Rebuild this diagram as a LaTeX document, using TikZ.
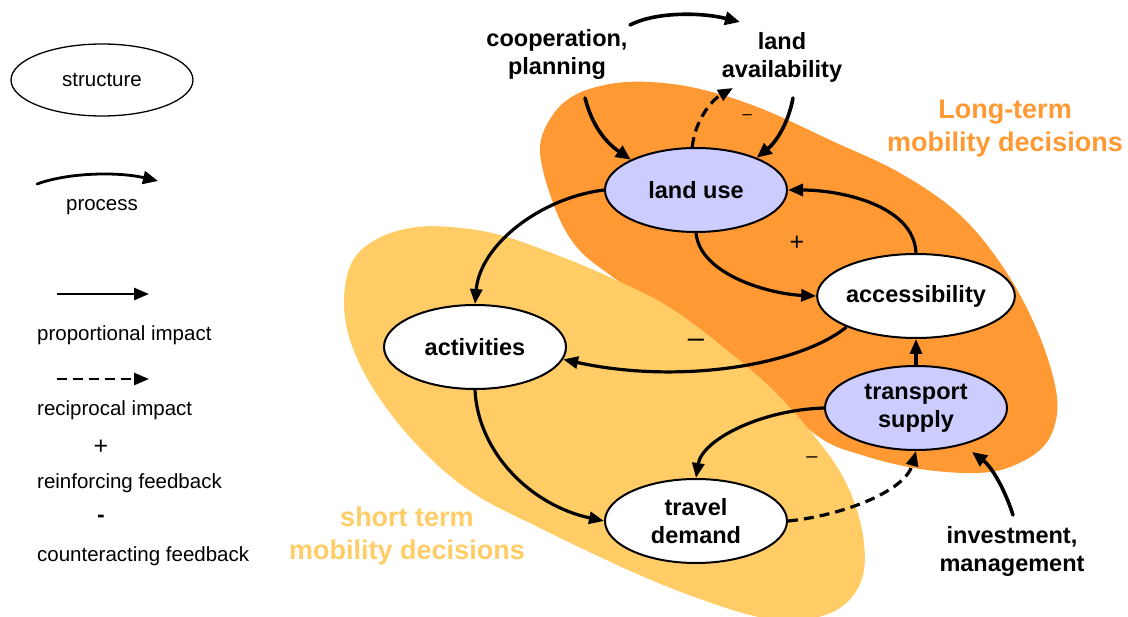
\documentclass[tikz,border=0pt]{standalone}
\usepackage{fontspec}
\setmainfont{Liberation Sans}
\usetikzlibrary{shapes.geometric,arrows.meta}
\definecolor{ltorange}{HTML}{FF9933}
\definecolor{styellow}{HTML}{FFCC66}
\definecolor{lav}{HTML}{CCCCFF}
\tikzset{
 struct/.style={ellipse, draw=black, line width=2pt, minimum width=182pt, minimum height=84pt, inner sep=0pt, align=center, font=\fontsize{23.5}{28}\selectfont\bfseries},
 policy/.style={struct, fill=lav},
 statenode/.style={struct, fill=white},
 impact/.style={line width=3.2pt, -{Triangle[length=15pt,width=12pt]}},
 recip/.style={impact, dash pattern=on 10pt off 6pt},
 proc/.style={line width=3.6pt, line cap=round, -{Triangle[length=15pt,width=13pt]}},
 ext/.style={align=center, font=\fontsize{23.5}{28}\selectfont\bfseries},
 heading/.style={align=center, font=\fontsize{27}{33}\selectfont\bfseries},
 legtext/.style={anchor=west, font=\fontsize{20.5}{24}\selectfont, inner sep=0pt},
 sign/.style={inner sep=0pt}
}
\begin{document}
\begin{tikzpicture}[x=1pt,y=-1pt]
\useasboundingbox (0,0) rectangle (1128,617);
% background regions
\fill[ltorange] plot[smooth cycle, tension=0.6] coordinates {(540,150) (552,116) (575,95) (610,84) (650,82) (700,89) (760,108) (830,140) (900,173) (960,215) (1005,270) (1037,330) (1055,385) (1056,420) (1042,448) (1010,467) (975,473) (920,469) (865,456) (819,437) (760,385) (690,330) (610,275) (575,245) (553,203)};
\fill[styellow] plot[smooth cycle, tension=0.6] coordinates {(344,300) (352,262) (375,240) (410,228) (450,227) (500,235) (562,257) (616,280) (669,307) (723,347) (776,393) (823,447) (848,487) (862,530) (864,570) (852,597) (828,614) (790,621) (750,615) (700,599) (651,580) (600,557) (544,530) (473,493) (419,447) (376,393) (351,343)};
% headings
\node[heading, text=ltorange] (hlong) at (1005,129) {Long-term\\mobility decisions};
\node[heading, text=styellow] (hshort) at (407,536) {short term\\mobility decisions};
% legend
\node[ellipse, draw=black, line width=1.3pt, minimum width=182pt, minimum height=72pt, inner sep=0pt, font=\fontsize{20.5}{24}\selectfont] (lstruct) at (102,80) {structure};
\coordinate (lps) at (37,184);
\coordinate (lpe) at (158,181);
\draw[proc, line width=2.8pt] (lps) .. controls (70,172) and (120,172) .. (lpe);
\node[font=\fontsize{20.5}{24}\selectfont] (lproc) at (102,207) {process};
\coordinate (lis) at (57,294);
\coordinate (lie) at (149,294);
\draw[impact, line width=2.6pt] (lis) -- (lie);
\node[legtext] (lprop) at (37,335) {proportional impact};
\coordinate (lrs) at (57,379);
\coordinate (lre) at (149,379);
\draw[recip, line width=2.6pt] (lrs) -- (lre);
\node[legtext] (lrecip) at (37,410) {reciprocal impact};
\node[sign, font=\fontsize{25}{25}\selectfont] (lplus) at (101,447) {+};
\node[sign, font=\fontsize{23}{24}\selectfont\bfseries] (lminus) at (101,519) {-};
\node[legtext] (lreinf) at (37,483) {reinforcing feedback};
\node[legtext] (lcount) at (37,556) {counteracting feedback};
% external factors
\node[ext] (coop) at (557,54) {cooperation,\\planning};
\node[ext] (avail) at (782,57) {land\\availability};
\node[ext] (invest) at (1012,551) {investment,\\management};
% structure nodes
\node[policy] (landuse) at (696,190) {land use};
\node[statenode] (access) at (916,296) {accessibility};
\node[statenode] (activ) at (475,347) {activities};
\node[policy] (transp) at (916,408) {transport\\supply};
\node[statenode] (travel) at (696,521) {travel\\demand};
% process arrows
\coordinate (tps) at (630,25);
\coordinate (tpe) at (740,22);
\draw[proc] (tps) .. controls (655,12) and (700,12) .. (tpe);
\coordinate (cps) at (585,98);
\draw[proc] (cps) .. controls (592,125) and (605,142) .. (landuse.155);
\coordinate (aps) at (793,98);
\draw[proc] (aps) .. controls (788,125) and (775,143) .. (landuse.28);
\coordinate (ips) at (1013,515);
\coordinate (ipe) at (972,452);
\draw[proc] (ips) .. controls (1005,490) and (992,467) .. (ipe);
% reciprocal from land use to land availability
\coordinate (rla) at (733,88);
\draw[recip] (landuse.95) .. controls (695,120) and (712,100) .. (rla);
\node[sign, font=\fontsize{17}{17}\selectfont] (m1) at (747,117) {–};
% impacts
\draw[impact] (landuse.west) .. controls (540,198) and (480,245) .. (activ.north);
\draw[impact] (landuse.south) .. controls (700,275) and (770,294) .. (access.west);
\draw[impact] (access.north) .. controls (914,205) and (840,190) .. (landuse.east);
\draw[impact] (access.204) .. controls (800,365) and (680,385) .. (activ.-8);
\draw[impact] (transp.north) -- (access.south);
\draw[impact] (transp.west) .. controls (760,410) and (702,440) .. (travel.north);
\draw[impact] (activ.south) .. controls (478,452) and (530,505) .. (travel.west);
\draw[recip] (travel.east) .. controls (840,516) and (905,492) .. (transp.south);
% feedback signs
\node[sign, font=\fontsize{25}{25}\selectfont] (plus1) at (797,243) {+};
\node[sign, font=\fontsize{29}{29}\selectfont] (m2) at (696,343) {–};
\node[sign, font=\fontsize{20}{20}\selectfont] (m3) at (812,460) {–};
\end{tikzpicture}
\end{document}
